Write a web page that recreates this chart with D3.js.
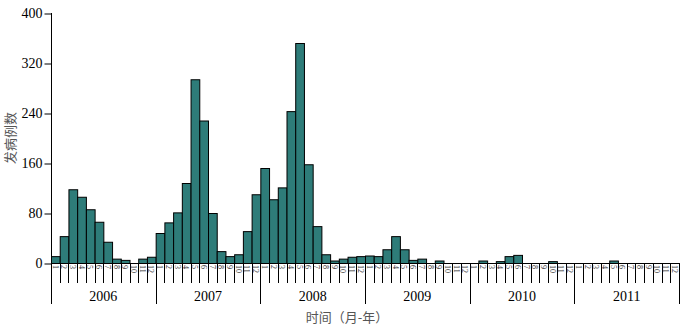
<!DOCTYPE html>
<html><head><meta charset="utf-8">
<script src="https://cdn.jsdelivr.net/npm/d3@7"></script>
<style>body{margin:0;background:#fff}svg{display:block}</style>
</head><body>
<script>
const years = ["2006","2007","2008","2009","2010","2011"];
const months = ["1","2","3","4","5","6","7","8","9","10","11","12"];
const cases2006 = [11, 43, 118, 106, 86, 66, 34, 7, 5, 0, 7, 10];
const cases2007 = [48, 65, 81, 128, 294, 228, 80, 19, 11, 14, 51, 110];
const cases2008 = [152, 102, 121, 243, 352, 158, 59, 14, 4, 7, 10, 11];
const cases2009 = [12, 11, 22, 43, 22, 5, 7, 0, 4, 0, 0, 0];
const cases2010 = [0, 4, 0, 3, 11, 13, 0, 0, 0, 3, 0, 0];
const cases2011 = [0, 0, 0, 0, 4, 0, 0, 0, 0, 0, 0, 0];
const yTicks = [0, 80, 160, 240, 320, 400];

const allCases = [cases2006, cases2007, cases2008, cases2009, cases2010, cases2011];
const data = [];
years.forEach((y, i) => months.forEach((m, j) => data.push({key: y + "-" + m, year: y, month: m, v: allCases[i][j]})));

const W = 687, H = 329;
const x0 = 51, x1 = 679, yTop = 13, yBase = 263;
const svg = d3.select("body").append("svg").attr("width", W).attr("height", H);

const x = d3.scaleBand().domain(data.map(d => d.key)).range([x0, x1]).padding(0);
const xYear = d3.scaleBand().domain(years).range([x0, x1]).padding(0);
const y = d3.scaleLinear().domain([0, 400]).range([yBase, yTop]);

// bars
svg.append("g").selectAll("rect").data(data).join("rect")
  .attr("x", d => x(d.key) + 0.5)
  .attr("y", d => y(d.v) + 0.5)
  .attr("width", x.bandwidth())
  .attr("height", d => Math.max(0, y(0) - y(d.v)))
  .attr("fill", "#2e7c79")
  .attr("stroke", "#000")
  .attr("stroke-width", 1);

// y axis
const yAxis = svg.append("g").attr("transform", `translate(${x0 + 0.5},0.5)`)
  .call(d3.axisLeft(y).tickValues(yTicks).tickSize(7).tickPadding(2).tickSizeOuter(0));
yAxis.select(".domain").remove();
yAxis.selectAll("text").attr("font-family", "Liberation Serif, serif").attr("font-size", 14).attr("fill", "#000");
svg.append("line").attr("x1", x0 + 0.5).attr("x2", x0 + 0.5).attr("y1", yTop).attr("y2", 304).attr("stroke", "#000");

// x axis line
svg.append("line").attr("x1", x0).attr("x2", x1 + 1).attr("y1", yBase + 0.5).attr("y2", yBase + 0.5).attr("stroke", "#000");

// month boundaries
const g = svg.append("g");
data.forEach((d, i) => {
  if (i === 0) return;
  const xx = Math.round(x(d.key)) + 0.5;
  const isYear = d.month === "1";
  g.append("line").attr("x1", xx).attr("x2", xx).attr("y1", yBase).attr("y2", isYear ? 304 : 283).attr("stroke", "#000");
});
g.append("line").attr("x1", x1 + 0.5).attr("x2", x1 + 0.5).attr("y1", yBase).attr("y2", 304).attr("stroke", "#000");

// month labels
svg.append("g").selectAll("text").data(data).join("text")
  .attr("transform", d => `translate(${x(d.key) + x.bandwidth() / 2},${yBase + 2}) rotate(90)`)
  .attr("dy", "0.35em")
  .attr("font-family", "Liberation Serif, serif")
  .attr("font-size", 8)
  .attr("fill", "#333")
  .text(d => d.month);

// year labels
svg.append("g").selectAll("text").data(years).join("text")
  .attr("x", d => xYear(d) + xYear.bandwidth() / 2)
  .attr("y", 301)
  .attr("text-anchor", "middle")
  .attr("font-family", "Liberation Serif, serif")
  .attr("font-size", 14)
  .attr("fill", "#000")
  .text(d => d);

// axis titles
svg.append("text").attr("x", 347).attr("y", 322).attr("text-anchor", "middle")
  .attr("font-family", "Noto Sans CJK SC, sans-serif").attr("font-size", 13).attr("fill", "#555")
  .text("时间（月-年）");
svg.append("text").attr("transform", "translate(15,138) rotate(-90)").attr("text-anchor", "middle")
  .attr("font-family", "Noto Sans CJK SC, sans-serif").attr("font-size", 13).attr("fill", "#555")
  .text("发病例数");
</script>
</body></html>
